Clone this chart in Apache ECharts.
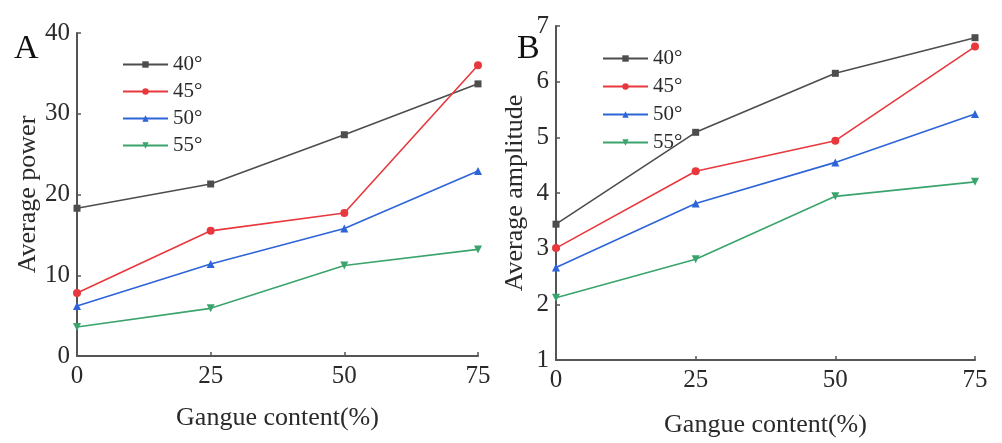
<!DOCTYPE html>
<html>
<head>
<meta charset="utf-8">
<script src="https://cdn.jsdelivr.net/npm/echarts@6/dist/echarts.min.js"></script>
<style>
  html, body { margin: 0; padding: 0; background: #ffffff; }
  #chart { width: 1002px; height: 443px; }
</style>
</head>
<body>
<div id="chart"></div>
<script>
// Gangue content levels (%) on the x axis
const gangueContent = [0, 25, 50, 75];
const angleNames = ['40°', '45°', '50°', '55°'];

// Panel A: average power
const power40 = [18.3, 21.3, 27.4, 33.7];
const power45 = [7.8, 15.5, 17.7, 36.0];
const power50 = [6.2, 11.4, 15.8, 22.9];
const power55 = [3.6, 5.9, 11.2, 13.2];

// Panel B: average amplitude
const amp40 = [3.44, 5.09, 6.15, 6.79];
const amp45 = [3.01, 4.39, 4.94, 6.63];
const amp50 = [2.66, 3.81, 4.55, 5.42];
const amp55 = [2.12, 2.81, 3.94, 4.20];

const colors = ['#4d4d4d', '#e8383d', '#2d64d8', '#3aa46c'];
const symbols = ['rect', 'circle', 'triangle', 'triangle'];
const rotations = [0, 0, 0, 180];
const serif = '"Liberation Serif", "DejaVu Serif", serif';
const ink = '#2a2a2a';

function pairs(values) {
  return gangueContent.map((x, i) => [x, values[i]]);
}

function makeSeries(sets, idx) {
  return sets.map((vals, k) => ({
    name: angleNames[k],
    type: 'line',
    xAxisIndex: idx,
    yAxisIndex: idx,
    data: pairs(vals),
    symbol: symbols[k],
    symbolRotate: rotations[k],
    symbolSize: k === 0 ? 7 : 8,
    showSymbol: true,
    lineStyle: { color: colors[k], width: 1.6 },
    itemStyle: { color: colors[k] },
    z: 3 + k
  }));
}

function xAxis(idx, gap) {
  return {
    type: 'value', gridIndex: idx, min: 0, max: 75, interval: 25,
    name: 'Gangue content(%)', nameLocation: 'middle', nameGap: gap,
    nameTextStyle: { fontFamily: serif, fontSize: 26, color: ink },
    axisLine: { show: true, lineStyle: { color: '#555', width: 2 } },
    axisTick: { show: true, inside: true, length: 4, lineStyle: { color: '#555', width: 1.5 } },
    axisLabel: { fontFamily: serif, fontSize: 25, color: ink, margin: 8 },
    splitLine: { show: false }
  };
}

function yAxis(idx, min, max, step, name, gap) {
  return {
    type: 'value', gridIndex: idx, min: min, max: max, interval: step,
    name: name, nameLocation: 'middle', nameGap: gap, nameRotate: 90,
    nameTextStyle: { fontFamily: serif, fontSize: 26, color: ink },
    axisLine: { show: true, lineStyle: { color: '#555', width: 2 } },
    axisTick: { show: true, inside: true, length: 4, lineStyle: { color: '#555', width: 1.5 } },
    axisLabel: { fontFamily: serif, fontSize: 25, color: ink, margin: 7 },
    splitLine: { show: false }
  };
}

function legend(left, top, gap) {
  return {
    data: angleNames, left: left, top: top, orient: 'vertical',
    itemWidth: 45, itemHeight: 8, itemGap: gap,
    selectedMode: false,
    textStyle: { fontFamily: serif, fontSize: 21, color: ink, lineHeight: 20 }
  };
}

const chart = echarts.init(document.getElementById('chart'), null, { renderer: 'canvas' });
chart.setOption({
  backgroundColor: '#ffffff',
  animation: false,
  grid: [
    { left: 77, top: 33, width: 401, height: 323 },
    { left: 556, top: 26, width: 419, height: 337 }
  ],
  xAxis: [xAxis(0, 49), xAxis(1, 52)],
  yAxis: [
    yAxis(0, 0, 40, 10, 'Average power', 36),
    yAxis(1, 1, 7, 1, 'Average amplitude', 28)
  ],
  legend: [legend(117, 49, 6), legend(597, 43, 7)],
  graphic: [
    { type: 'text', left: 14, top: 32, style: { text: 'A', font: '34px ' + serif, fill: '#111' } },
    { type: 'text', left: 517, top: 32, style: { text: 'B', font: '34px ' + serif, fill: '#111' } }
  ],
  series: [
    ...makeSeries([power40, power45, power50, power55], 0),
    ...makeSeries([amp40, amp45, amp50, amp55], 1)
  ]
});
</script>
</body>
</html>
